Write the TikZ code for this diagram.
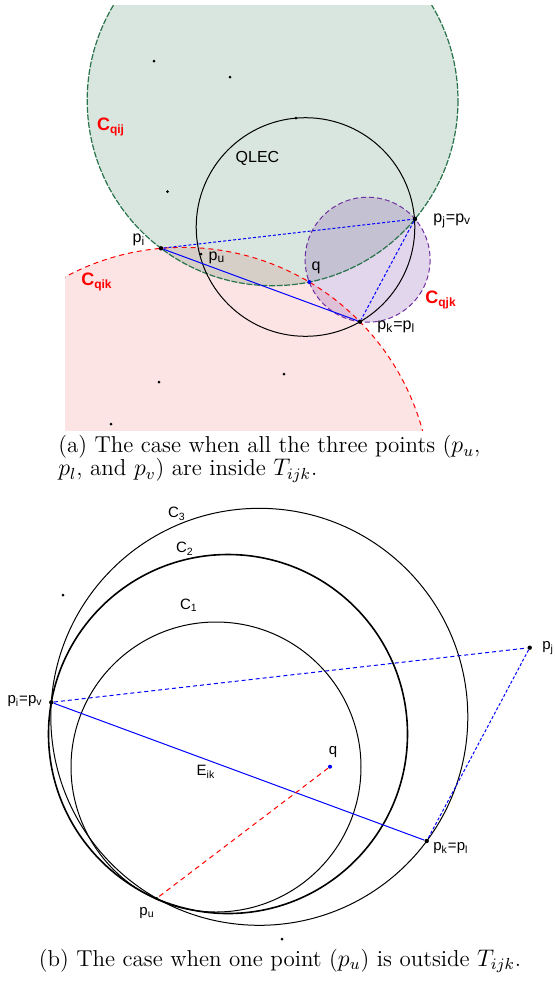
\documentclass[tikz,border=0pt]{standalone}
\usepackage{fontspec}
\setsansfont{Liberation Sans}
\usepackage{tikz}
\definecolor{qijline}{RGB}{40,115,75}
\definecolor{qjkline}{RGB}{112,48,160}
\definecolor{qikfill}{RGB}{253,228,228}
\newcommand{\sub}[1]{\textsubscript{#1}}

\tikzset{
  bigpt/.style={circle,fill=black,inner sep=0pt,minimum size=2.2pt},
  smallpt/.style={circle,fill=black,inner sep=0pt,minimum size=1.5pt},
  qpt/.style={circle,fill=blue,inner sep=0pt,minimum size=2pt},
  lbl/.style={font=\sffamily\fontsize{8}{9}\selectfont,inner sep=0pt},
  lblb/.style={font=\sffamily\fontsize{7.5}{8.5}\selectfont,inner sep=0pt},
  clbl/.style={font=\sffamily\bfseries\fontsize{9}{10}\selectfont,text=red,inner sep=0pt},
  edgeline/.style={blue,line width=0.5pt},
  hullline/.style={blue,line width=0.5pt,dash pattern=on 1.5pt off 1pt},
  caption/.style={inner sep=0pt,font=\fontsize{11.5}{11.6}\selectfont}
}

\begin{document}
\begin{tikzpicture}[x=0.5pt,y=-0.5pt]
  \useasboundingbox (0,0) rectangle (555,981);

  % (a) all three points inside
  \begin{scope}
    \clip (65,5) rectangle (470,430);
    \fill[qikfill] (182.7,495.9) circle [radius=248.5];
    \fill[qijline,fill opacity=0.18] (272.6,100.3) circle [radius=185.4];
    \fill[qjkline,fill opacity=0.2] (367.6,259.7) circle [radius=62.5];
    \draw[red,line width=0.5pt,dash pattern=on 2.5pt off 2pt] (182.7,495.9) circle [radius=248.5];
    \draw[qijline,line width=0.6pt,dash pattern=on 3pt off 0.8pt] (272.6,100.3) circle [radius=185.4];
    \draw[qjkline,line width=0.5pt,dash pattern=on 2.5pt off 1.5pt] (367.6,259.7) circle [radius=62.5];
    \draw[line width=0.5pt] (305.5,227) circle [radius=109.3];
  \end{scope}

  \node[bigpt] (pi) at (161,248.3) {};
  \node[bigpt] (pj) at (415,219) {};
  \node[bigpt] (pk) at (360,321.7) {};
  \node[smallpt] (pu) at (201,254) {};
  \node[qpt] (q) at (309.3,282) {};
  \node[smallpt] (d1) at (154,61) {};
  \node[smallpt] (d2) at (230,77) {};
  \node[smallpt] (d3) at (296,118) {};
  \node[smallpt] (d4) at (167.5,191.5) {};
  \node[smallpt] (d5) at (159,382) {};
  \node[smallpt] (d6) at (284,374) {};
  \node[smallpt] (d7) at (111,424) {};

  \draw[edgeline] (pi) -- (pk);
  \draw[hullline] (pi) -- (pj);
  \draw[hullline] (pj) -- (pk);

  \node[clbl] (cqij) at (111,127) {C\sub{qij}};
  \node[clbl] (cqik) at (97,282) {C\sub{qik}};
  \node[clbl] (cqjk) at (441,300) {C\sub{qjk}};
  \node[lbl] (qlec) at (257.5,158) {QLEC};
  \node[lbl] (lpi) at (139,240) {p\sub{i}};
  \node[lbl] (lpu) at (217,258) {p\sub{u}};
  \node[lbl] (lq) at (316,268) {q};
  \node[lbl,anchor=west] (lpj) at (433,221) {p\sub{j}=p\sub{v}};
  \node[lbl,anchor=west] (lpk) at (377,327) {p\sub{k}=p\sub{l}};

  \node[caption,anchor=west,align=left] (capa) at (58,459)
    {(a) The case when all the three points ($p_u$,\\ $p_l$, and $p_v$) are inside $T_{ijk}$.};

  % (b) one point outside
  \draw[line width=0.5pt] (259.3,716.8) circle [radius=208.5];
  \draw[line width=0.8pt] (228,734) circle [radius=179.5];
  \draw[line width=0.5pt] (216,767) circle [radius=145];

  \node[bigpt] (bpi) at (51.3,702.3) {};
  \node[bigpt] (bpj) at (529.7,647.7) {};
  \node[bigpt] (bpk) at (426.7,841) {};
  \node[smallpt] (bpu) at (156.7,898.3) {};
  \node[qpt] (bq) at (330,766.7) {};
  \node[smallpt] (e1) at (63,595) {};
  \node[smallpt] (e2) at (282,939) {};

  \draw[edgeline] (bpi) -- (bpk);
  \draw[blue,line width=0.5pt,dash pattern=on 2pt off 1.5pt] (bpi) -- (bpj);
  \draw[hullline] (bpj) -- (bpk);
  \draw[red,line width=0.5pt,dash pattern=on 2.5pt off 2pt] (bq) -- (bpu);

  \node[lblb] (c3) at (177,514) {C\sub{3}};
  \node[lblb] (c2) at (185,549) {C\sub{2}};
  \node[lblb] (c1) at (189,605) {C\sub{1}};
  \node[lblb,anchor=east] (lbpi) at (43,701) {p\sub{i}=p\sub{v}};
  \node[lblb,anchor=west] (lbpj) at (542,648) {p\sub{j}};
  \node[lblb,anchor=west] (lbpk) at (433,848) {p\sub{k}=p\sub{l}};
  \node[lblb] (lbpu) at (147,913) {p\sub{u}};
  \node[lblb] (lbq) at (333,752) {q};
  \node[lblb] (eik) at (206,772) {E\sub{ik}};

  \node[caption] (capb) at (280,961)
    {(b) The case when one point ($p_u$) is outside $T_{ijk}$.};
\end{tikzpicture}
\end{document}
